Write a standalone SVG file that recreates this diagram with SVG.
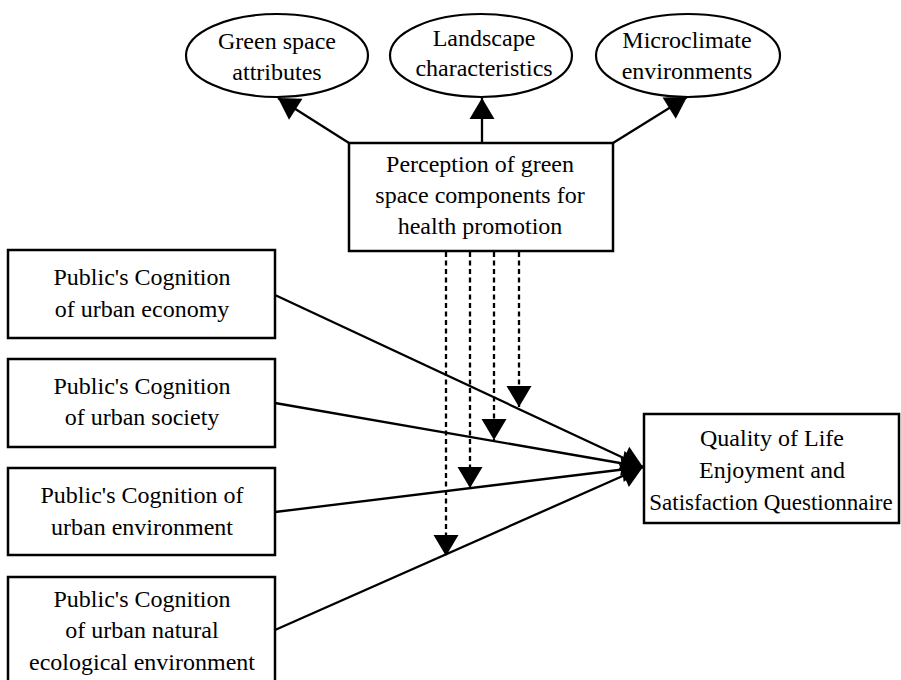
<svg xmlns="http://www.w3.org/2000/svg" width="901" height="680" viewBox="0 0 901 680">
<style>
  .box { fill: #fff; stroke: #000; stroke-width: 2.5; }
  .ell { fill: #fff; stroke: #000; stroke-width: 2.2; }
  text { font-family: "Liberation Serif", "Times New Roman", serif; font-size: 24px; fill: #000; text-anchor: middle; }
  .solid { fill: none; stroke: #000; stroke-width: 2.3; marker-end: url(#arr); }
  .dash { fill: none; stroke: #000; stroke-width: 2.3; stroke-dasharray: 5 3.5; marker-end: url(#arr); }
</style>
<defs>
  <marker id="arr" markerUnits="userSpaceOnUse" markerWidth="22" markerHeight="26" refX="21" refY="12.5" orient="auto" overflow="visible">
    <path d="M0,0 L21,12.5 L0,25 z" fill="#000"/>
  </marker>
</defs>
<rect width="901" height="680" fill="#fff"/>
<g id="connectors">
  <line class="solid" x1="349" y1="143" x2="278" y2="98"/>
  <line class="solid" x1="482" y1="143" x2="482" y2="98"/>
  <line class="solid" x1="613" y1="143" x2="687" y2="97"/>
  <line class="solid" x1="275" y1="295" x2="643" y2="467"/>
  <line class="solid" x1="275" y1="403" x2="643" y2="467"/>
  <line class="solid" x1="275" y1="512" x2="643" y2="467"/>
  <line class="solid" x1="275" y1="630" x2="643" y2="467"/>
  <line class="dash" x1="446" y1="252" x2="446" y2="556"/>
  <line class="dash" x1="470" y1="252" x2="470" y2="488"/>
  <line class="dash" x1="494" y1="252" x2="494" y2="440"/>
  <line class="dash" x1="519" y1="252" x2="519" y2="407"/>
</g>
<g id="green-space-attributes">
  <ellipse class="ell" cx="277" cy="55.5" rx="91" ry="41.5"/>
  <text x="277" y="49">Green space</text>
  <text x="277" y="80">attributes</text>
</g>
<g id="landscape-characteristics">
  <ellipse class="ell" cx="481" cy="55.5" rx="91" ry="41.5"/>
  <text x="484" y="46">Landscape</text>
  <text x="484" y="76">characteristics</text>
</g>
<g id="microclimate-environments">
  <ellipse class="ell" cx="688" cy="55.5" rx="92" ry="41.5"/>
  <text x="687" y="48">Microclimate</text>
  <text x="687" y="79">environments</text>
</g>
<g id="perception">
  <rect class="box" x="349" y="143" width="264" height="108"/>
  <text x="480" y="172">Perception of green</text>
  <text x="480" y="203">space components for</text>
  <text x="480" y="234">health promotion</text>
</g>
<g id="economy">
  <rect class="box" x="8" y="250" width="267" height="88"/>
  <text x="142" y="285">Public's Cognition</text>
  <text x="142" y="317">of urban economy</text>
</g>
<g id="society">
  <rect class="box" x="8" y="359" width="267" height="88"/>
  <text x="142" y="394">Public's Cognition</text>
  <text x="142" y="425">of urban society</text>
</g>
<g id="environment">
  <rect class="box" x="8" y="468" width="267" height="87"/>
  <text x="142" y="503">Public's Cognition of</text>
  <text x="142" y="535">urban environment</text>
</g>
<g id="natural-ecological">
  <rect class="box" x="8" y="577" width="267" height="113"/>
  <text x="142" y="607">Public's Cognition</text>
  <text x="142" y="638">of urban natural</text>
  <text x="142" y="670">ecological environment</text>
</g>
<g id="quality-of-life">
  <rect class="box" x="644" y="414" width="255" height="109"/>
  <text x="772" y="446">Quality of Life</text>
  <text x="772" y="478">Enjoyment and</text>
  <text x="771" y="510" style="font-size:23px">Satisfaction Questionnaire</text>
</g>
</svg>
